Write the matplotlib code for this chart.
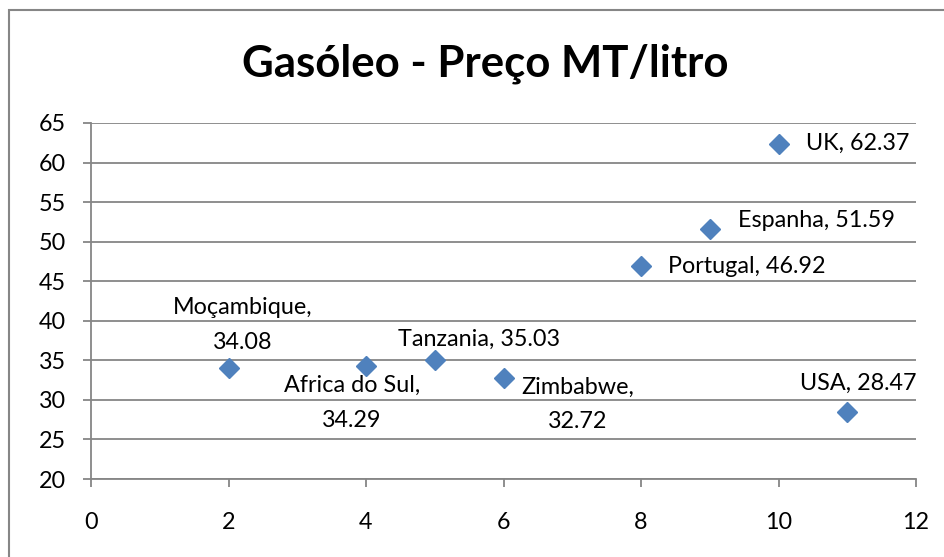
import matplotlib
matplotlib.use("Agg")
import matplotlib.pyplot as plt
from matplotlib.patches import Rectangle

# dados: gasoleo, preco MT/litro
paises = ["Moçambique", "Africa do Sul", "Tanzania", "Zimbabwe",
          "Portugal", "Espanha", "UK", "USA"]
x_vals = [2, 4, 5, 6, 8, 9, 10, 11]
precos = [34.08, 34.29, 35.03, 32.72, 46.92, 51.59, 62.37, 28.47]
x_ticks = [0, 2, 4, 6, 8, 10, 12]
y_ticks = [20, 25, 30, 35, 40, 45, 50, 55, 60, 65]

# posicao de cada rotulo (offset em pixels, alinhamento, quebra de linha)
rotulos = {
    "Moçambique": ((14, 15), "center", "bottom", True),
    "Africa do Sul": ((-14, -9), "center", "top", True),
    "Tanzania": ((44, 10), "center", "bottom", False),
    "Zimbabwe": ((74, 2), "center", "top", True),
    "Portugal": ((27, 0), "left", "center", False),
    "Espanha": ((28, 9), "left", "center", False),
    "UK": ((27, 0), "left", "center", False),
    "USA": ((11, 18), "center", "bottom", False),
}

plt.rcParams['font.family'] = ['Lato', 'DejaVu Sans']
cinza = "#868686"
azul = "#4F81BD"
fs = 16.8

fig = plt.figure(figsize=(9.44, 5.57), dpi=100)
ax = fig.add_axes([91/944, 78/557, 825/944, 356/557])

ax.plot(x_vals, precos, linestyle="none", marker="D", markersize=10,
        color=azul, zorder=3, clip_on=False)

px = 0.72  # pixels -> points
for nome, xv, yv in zip(paises, x_vals, precos):
    (dx, dy), ha, va, quebra = rotulos[nome]
    sep = "\n" if quebra else " "
    txt = nome + "," + sep + "%.2f" % yv
    ax.annotate(txt, (xv, yv), xytext=(dx*px, dy*px), textcoords="offset points",
                ha=ha, va=va, fontsize=fs, linespacing=1.8, color="black",
                multialignment="center")

ax.set_xlim(0, 12)
ax.set_ylim(20, 65)
ax.set_xticks(x_ticks)
ax.set_yticks(y_ticks)
ax.grid(axis="y", color=cinza, linewidth=1.3)
ax.set_axisbelow(True)
for s in ["top", "right"]:
    ax.spines[s].set_visible(False)
for s in ["left", "bottom"]:
    ax.spines[s].set_color(cinza)
    ax.spines[s].set_linewidth(1.3)
ax.tick_params(axis="both", direction="out", length=6, width=1.3, color=cinza,
               labelsize=fs)
ax.tick_params(axis="x", pad=18)
ax.tick_params(axis="y", pad=12)

fig.text(485/944, 1 - 77/557, "Gasóleo - Preço MT/litro", ha="center", va="baseline",
         fontsize=31.5, fontweight="bold")

# borda da area do grafico
fig.patches.append(Rectangle((9/944, -0.1), 1.2, 1 - 10/557 + 0.1,
                             transform=fig.transFigure, fill=False,
                             edgecolor=cinza, linewidth=1.5))

fig.savefig("out.png", dpi=100)
